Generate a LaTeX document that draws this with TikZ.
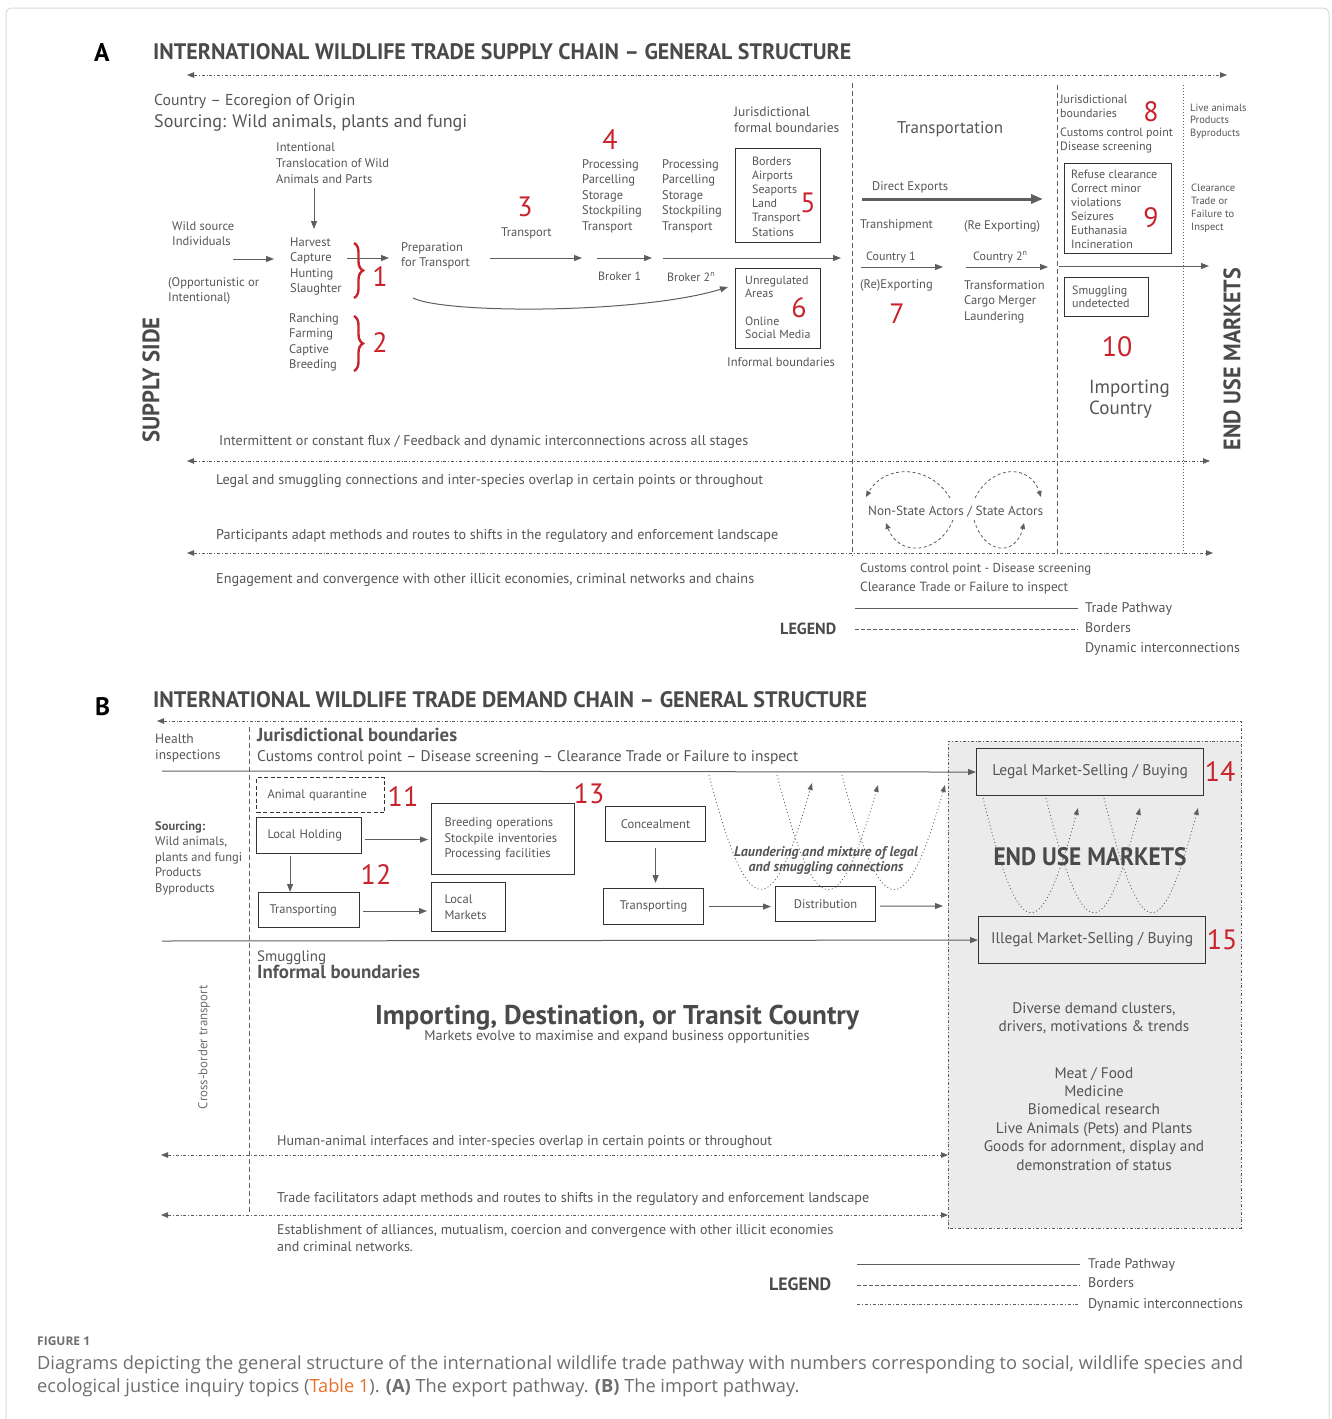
\documentclass[tikz,border=0pt]{standalone}
\usepackage{graphicx}
\usepackage{fontspec}
\setmainfont{PT Sans}
\newfontfamily\capfont{Open Sans}
\usetikzlibrary{arrows.meta,decorations.pathreplacing}
\definecolor{tg}{HTML}{555555}
\definecolor{lg}{HTML}{5E5E5E}
\definecolor{hd}{HTML}{4A4A4A}
\definecolor{rd}{HTML}{C8232C}
\definecolor{bx}{HTML}{EBEBEB}
\definecolor{capc}{HTML}{6E6E6E}
\definecolor{orng}{HTML}{E8702A}
\definecolor{frm}{HTML}{DADADA}
\newcommand\fitw[2]{\resizebox{#1}{!}{#2}}
\newcommand\fs[2]{\fontsize{#1}{#2}\selectfont}
\begin{document}
\begin{tikzpicture}[x=1pt,y=-1pt,
  txt/.style={inner sep=0, text=tg, anchor=base west, align=left, font=\fs{12.5}{15.5}},
  ctxt/.style={txt, anchor=base, align=center},
  num/.style={inner sep=0, text=rd, anchor=center, font=\fs{28}{28}},
  arr/.style={draw=lg, line width=1pt, -{Triangle[length=8pt,width=6pt]}},
  ddl/.style={draw=lg, line width=0.8pt, dash pattern=on 3pt off 2pt on 0.8pt off 2pt},
  bdl/.style={draw=lg, line width=0.9pt, dash pattern=on 5pt off 3pt},
  dtl/.style={draw=lg, line width=0.8pt, dash pattern=on 1pt off 2pt},
  abox/.style={draw=black!80, line width=1.1pt, inner sep=0, anchor=north west},
  bbox/.style={draw=black!80, line width=1.1pt, inner sep=0, anchor=north west, text=tg, font=\fs{12.5}{15.5}},
  brc/.style={draw=rd, line width=2.4pt, decorate, decoration={brace, amplitude=9pt}},
  hdr/.style={inner sep=0, text=hd, anchor=base west},
  tip2/.style={{Triangle[length=7pt,width=5.5pt]}-{Triangle[length=7pt,width=5.5pt]}},
  loopa/.style={draw=lg, line width=0.8pt, dash pattern=on 3pt off 2.5pt, -{Triangle[length=6pt,width=5pt]}},
  dota/.style={draw=lg, line width=0.8pt, dash pattern=on 1pt off 2.5pt, -{Triangle[length=7pt,width=5pt]}},
]
\useasboundingbox (0,0) rectangle (1331,1419);
\draw[frm, line width=1pt, rounded corners=6pt] (6,8) rectangle (1329,1440);

% ================= PANEL A =================
\node[hdr, text=black] (la) at (94,61) {\resizebox{!}{18pt}{\bfseries A}};
\node[hdr] (ta) at (153,59) {\resizebox{698pt}{16pt}{\bfseries INTERNATIONAL WILDLIFE TRADE SUPPLY CHAIN – GENERAL STRUCTURE}};
\coordinate (ta1) at (187,75); \coordinate (ta2) at (1227,75);
\draw[ddl, tip2] (ta1) -- (ta2);

% borders
\draw[bdl] (852,83) -- (852,556);
\draw[bdl] (1057,85) -- (1057,553);
\draw[dtl] (1183,85) -- (1183,553);

\node[txt, font=\fs{15}{18}] (cty) at (154,105) {\fitw{201pt}{Country – Ecoregion of Origin}};
\node[txt, font=\fs{18}{20}] (src) at (154,127) {\fitw{313pt}{Sourcing: Wild animals, plants and fungi}};
\node[txt, font=\fs{12.5}{16}] (itl) at (276,183) {Intentional\\Translocation of Wild\\Animals and Parts};
\node[txt] (wsi) at (172,245.5) {Wild source\\Individuals};
\node[txt] (opp) at (168,301.5) {(Opportunistic or\\Intentional)};
\node[txt] (hcs) at (290,292.5) {Harvest\\Capture\\Hunting\\Slaughter};
\node[txt] (rfc) at (289,368.5) {Ranching\\Farming\\Captive\\Breeding};
\node[txt] (prep) at (401,266.5) {Preparation\\for Transport};
\node[txt] (trn) at (501,236) {Transport};
\node[txt] (p1) at (582,230) {Processing\\Parcelling\\Storage\\Stockpiling\\Transport};
\node[txt] (p2) at (662,230) {Processing\\Parcelling\\Storage\\Stockpiling\\Transport};
\node[txt, font=\fs{12}{14}] (b1) at (598,280) {Broker 1};
\node[txt, font=\fs{12}{14}] (b2) at (667,281) {Broker 2\textsuperscript{n}};
\node[txt, font=\fs{13.5}{16.5}] (jfb) at (734,132.5) {Jurisdictional\\formal boundaries};
\node[txt] (ifb) at (727,366) {Informal boundaries};

\node[abox, minimum width=85, minimum height=94] (b5) at (735,148) {};
\node[txt, font=\fs{12}{14.2}] (b5t) at (752,236) {Borders\\Airports\\Seaports\\Land\\Transport\\Stations};
\node[abox, minimum width=85, minimum height=80] (b6) at (735,268) {};
\node[txt, font=\fs{12}{13.5}] (b6t) at (745,338.5) {Unregulated\\Areas\\[14pt]Online\\Social Media};

\node[txt, font=\fs{17}{20}] (tsp) at (897,133) {Transportation};
\node[txt] (dex) at (872,190) {Direct Exports};
\node[txt] (tsh) at (860,228) {Transhipment};
\node[txt] (rex) at (964,229) {(Re Exporting)};
\node[txt, font=\fs{12}{14}] (c1) at (866,260) {Country 1};
\node[txt, font=\fs{12}{14}] (c2) at (973,260) {Country 2\textsuperscript{n}};
\node[txt] (rexp) at (860,288) {(Re)Exporting};
\node[txt] (tcl) at (964,320) {Transformation\\Cargo Merger\\Laundering};

\node[txt, font=\fs{12}{14}] (jb) at (1060,117) {Jurisdictional\\boundaries};
\node[txt, font=\fs{12}{14}] (ccp) at (1060,150) {Customs control point\\Disease screening};
\node[abox, minimum width=107, minimum height=90] (b9) at (1064,163) {};
\node[txt, font=\fs{12}{14}] (b9t) at (1071,248) {Refuse clearance\\Correct minor\\violations\\Seizures\\Euthanasia\\Incineration};
\node[abox, minimum width=84, minimum height=39] (bs) at (1064,277) {};
\node[txt, font=\fs{12}{13.5}] (bst) at (1072,307.5) {Smuggling\\undetected};
\node[txt, font=\fs{19}{21}] (impc) at (1089,414) {Importing\\Country};
\node[txt, font=\fs{10.5}{12.8}] (lap) at (1190,136.6) {Live animals\\Products\\Byproducts};
\node[txt, font=\fs{10.5}{12.7}] (ctf) at (1191,230) {Clearance\\Trade or\\Failure to\\Inspect};

\node[inner sep=0, text=hd, rotate=90] (sup) at (151,380) {\resizebox{125pt}{17pt}{\bfseries SUPPLY SIDE}};
\node[inner sep=0, text=hd, rotate=90] (eum) at (1232,359) {\resizebox{182pt}{17pt}{\bfseries END USE MARKETS}};

% numbers A
\node[num] (n1) at (380,277) {1};
\node[num] (n2) at (380,343) {2};
\node[num] (n3) at (525,207) {3};
\node[num] (n4) at (610,140) {4};
\node[num] (n5) at (808,203) {5};
\node[num] (n6) at (799,308) {6};
\node[num] (n7) at (897,314) {7};
\node[num] (n8) at (1151,112) {8};
\node[num] (n9) at (1151,218) {9};
\node[num] (n10) at (1117,347) {10};
\draw[brc] (354,243) -- (354,298);
\draw[brc] (354,316) -- (354,371);

% arrows A
\coordinate (a1s) at (314,188); \coordinate (a1e) at (314,229);
\coordinate (a2s) at (233,259); \coordinate (a2e) at (274,259);
\coordinate (a3s) at (347,258); \coordinate (a3e) at (389,258);
\coordinate (a4s) at (490,258); \coordinate (a4e) at (582,258);
\coordinate (a5s) at (597,258); \coordinate (a5e) at (652,258);
\coordinate (a6s) at (663,258); \coordinate (a6e) at (841,258);
\coordinate (a7s) at (413,298); \coordinate (a7e) at (728,287);
\coordinate (a8s) at (862,199); \coordinate (a8e) at (1043,199);
\coordinate (a9s) at (861,267); \coordinate (a9e) at (943,267);
\coordinate (a10s) at (966,267); \coordinate (a10e) at (1048,267);
\coordinate (a11s) at (1059,266); \coordinate (a11e) at (1209,266);
\draw[arr] (a1s) -- (a1e);
\draw[arr] (a2s) -- (a2e);
\draw[arr] (a3s) -- (a3e);
\draw[arr] (a4s) -- (a4e);
\draw[arr] (a5s) -- (a5e);
\draw[arr] (a6s) -- (a6e);
\draw[arr] (a7s) .. controls (445,314) and (640,314) .. (a7e);
\draw[draw=lg, line width=3pt, -{Triangle[length=12pt,width=9pt]}] (a8s) -- (a8e);
\draw[arr] (a9s) -- (a9e);
\draw[arr] (a10s) -- (a10e);
\draw[arr] (a11s) -- (a11e);

% dynamic lines A
\node[txt] (fl1) at (219,445) {\fitw{529pt}{Intermittent or constant flux / Feedback and dynamic interconnections across all stages}};
\coordinate (d1a) at (187,461); \coordinate (d1b) at (1210,461);
\draw[ddl, tip2] (d1a) -- (d1b);
\node[txt] (fl2) at (216,484) {\fitw{547pt}{Legal and smuggling connections and inter-species overlap in certain points or throughout}};
\node[txt] (fl3) at (216,539) {\fitw{562pt}{Participants adapt methods and routes to shifts in the regulatory and enforcement landscape}};
\coordinate (d2a) at (187,553); \coordinate (d2b) at (1213,553);
\draw[ddl, tip2] (d2a) -- (d2b);
\node[txt] (fl4) at (216,583) {\fitw{538pt}{Engagement and convergence with other illicit economies, criminal networks and chains}};

% actors
\node[txt] (nsa) at (868,515) {\fitw{175pt}{Non-State Actors / State Actors}};
\draw[loopa] (950,498) .. controls (930,464) and (884,464) .. (866,497);
\draw[loopa] (975,498) .. controls (992,464) and (1030,464) .. (1041,497);
\draw[loopa] (953,520) .. controls (938,556) and (898,556) .. (886,523);
\draw[loopa] (974,520) .. controls (985,556) and (1016,556) .. (1024,523);

\node[txt] (cc2) at (860,572) {\fitw{231pt}{Customs control point - Disease screening}};
\node[txt] (cc3) at (860,591) {\fitw{208pt}{Clearance Trade or Failure to inspect}};

% legend A
\coordinate (lgA1) at (855,608); \coordinate (lgA2) at (1078,608);
\coordinate (lgA3) at (855,629); \coordinate (lgA4) at (1078,629);
\draw[draw=lg, line width=1pt] (lgA1) -- (lgA2);
\draw[bdl, dash pattern=on 3.5pt off 2.5pt] (lgA3) -- (lgA4);
\node[txt, font=\fs{14}{15}] (lgt1) at (1085,612) {Trade Pathway};
\node[txt, font=\fs{14}{15}] (lgt2) at (1085,632) {Borders};
\node[txt, font=\fs{14}{15}] (lgt3) at (1085,652) {Dynamic interconnections};
\node[hdr] (lgA) at (780,634) {\resizebox{56pt}{!}{\bfseries LEGEND}};

% ================= PANEL B =================
\node[hdr, text=black] (lb) at (95,715) {\resizebox{!}{18pt}{\bfseries B}};
\node[hdr] (tb) at (153,707) {\resizebox{714pt}{16pt}{\bfseries INTERNATIONAL WILDLIFE TRADE DEMAND CHAIN – GENERAL STRUCTURE}};

\fill[bx] (948,741) rectangle (1241,1228);
\coordinate (tb1) at (157,721); \coordinate (tb2) at (1241,721);
\draw[ddl, {Triangle[length=7pt,width=5.5pt]}-] (tb1) -- (tb2) -- (1241,1228) -- (948,1228) -- (948,741) -- (1241,741);
\draw[bdl] (249,727) -- (249,1213);

\node[txt, font=\fs{13.5}{16}] (hi) at (155,759) {Health\\inspections};
\node[txt, font=\bfseries\fs{15}{18}] (jbB) at (257,741) {\fitw{200pt}{Jurisdictional boundaries}};
\node[txt, font=\fs{14.5}{17}] (ccB) at (257,761) {\fitw{541pt}{Customs control point – Disease screening – Clearance Trade or Failure to inspect}};
\node[txt] (srcB) at (155,892) {\textbf{Sourcing:}\\Wild animals,\\plants and fungi\\Products\\Byproducts};
\node[txt, font=\fs{15}{17}] (smB) at (257,961) {Smuggling};
\node[txt, font=\bfseries\fs{15}{17}] (ifB) at (257,978) {\fitw{163pt}{Informal boundaries}};
\node[inner sep=0, text=tg!85, rotate=90] (cbt) at (204,1047) {\resizebox{124pt}{!}{\fs{11.5}{12}Cross-border transport}};

% boxes B
\node[bbox, dashed, dash pattern=on 4pt off 2.5pt, minimum width=128, minimum height=35, text width=106, inner xsep=11, align=left] (aq) at (256,777) {Animal quarantine};
\node[bbox, minimum width=105, minimum height=36, text width=83, inner xsep=11, align=left] (lh) at (256,817) {Local Holding};
\node[bbox, minimum width=143, minimum height=71, text width=117, inner xsep=13, align=left] (bo) at (431,803) {Breeding operations\\Stockpile inventories\\Processing facilities};
\node[bbox, minimum width=101, minimum height=35, text width=79, inner xsep=11, align=left] (tr1) at (258,892) {Transporting};
\node[bbox, minimum width=74, minimum height=49, text width=48, inner xsep=13, align=left] (lm) at (431,882) {Local\\Markets};
\node[bbox, minimum width=100, minimum height=35, align=center] (con) at (605,806) {Concealment};
\node[bbox, minimum width=100, minimum height=36, align=center] (tr2) at (603,888) {Transporting};
\node[bbox, minimum width=100, minimum height=35, align=center] (dis) at (775,886) {Distribution};
\node[bbox, minimum width=227, minimum height=47, align=center, font=\fs{15.5}{17}] (legal) at (976,748) {Legal Market-Selling / Buying};
\node[bbox, minimum width=227, minimum height=47, align=center, font=\fs{15.5}{17}] (illegal) at (978,916) {Illegal Market-Selling / Buying};

\node[num] (n11) at (403,797) {11};
\node[num] (n12) at (376,875) {12};
\node[num] (n13) at (589,794) {13};
\node[num] (n14) at (1220,772) {14};
\node[num] (n15) at (1222,940) {15};

% arrows B
\coordinate (lgs) at (162,771);
\coordinate (ils) at (162,941);
\coordinate (disend) at (943,906);
\draw[arr] (lgs) -- (legal.west);
\draw[arr] (ils) -- (illegal.west);
\draw[arr] ([xshift=3,yshift=-4]lh.east) -- ([xshift=-3,yshift=-4]lh.east -| bo.west);
\draw[arr] ([xshift=-19,yshift=-2]lh.south) -- ([xshift=-19]lh.south |- tr1.north);
\draw[arr] ([xshift=3,yshift=-1]tr1.east) -- ([xshift=-4,yshift=-1]tr1.east -| lm.west);
\draw[arr] ([yshift=-6]con.south) -- ([yshift=5]con.south |- tr2.north);
\draw[arr] ([xshift=5]tr2.east) -- ([xshift=-4]tr2.east -| dis.west);
\draw[arr] ([xshift=4,yshift=-2]dis.east) -- (disend);

% dotted laundering curves
\draw[dota] (709,775) .. controls (748,925) and (772,925) .. (812,783);
\draw[dota] (777,775) .. controls (816,925) and (838,925) .. (878,785);
\draw[dota] (842,775) .. controls (881,925) and (905,925) .. (945,785);
\draw[dota] (983,798) .. controls (1020,948) and (1040,948) .. (1078,808);
\draw[dota] (1046,798) .. controls (1083,948) and (1103,948) .. (1140,808);
\draw[dota] (1104,798) .. controls (1141,948) and (1161,948) .. (1198,808);

\node[ctxt, font=\bfseries\itshape\fs{14}{15.5}] (laund) at (826,871.5) {Laundering and mixture of legal\\and smuggling connections};
\node[inner sep=0, text=hd, anchor=center] (eumB) at (1090,857) {\resizebox{193pt}{18pt}{\bfseries END USE MARKETS}};

\node[ctxt, font=\bfseries\fs{23}{26}, text=hd] (idt) at (617,1024) {\fitw{484pt}{Importing, Destination, or Transit Country}};
\node[ctxt] (mev) at (617,1040) {\fitw{385pt}{Markets evolve to maximise and expand business opportunities}};

\node[ctxt, font=\fs{15.3}{18}] (ddc) at (1094,1031) {Diverse demand clusters,\\drivers, motivations \& trends};
\node[ctxt, font=\fs{15.3}{18.4}] (meat) at (1094,1170) {Meat / Food\\Medicine\\Biomedical research\\Live Animals (Pets) and Plants\\Goods for adornment, display and\\demonstration of status};

\node[txt] (hb1) at (277,1145) {\fitw{495pt}{Human-animal interfaces and inter-species overlap in certain points or throughout}};
\coordinate (e1a) at (161,1155); \coordinate (e1b) at (948,1155);
\draw[ddl, tip2] (e1a) -- (e1b);
\node[txt] (hb2) at (277,1202) {\fitw{592pt}{Trade facilitators adapt methods and routes to shifts in the regulatory and enforcement landscape}};
\coordinate (e2a) at (161,1215); \coordinate (e2b) at (948,1215);
\draw[ddl, tip2] (e2a) -- (e2b);
\node[txt, font=\fs{14}{17}] (hb3) at (277,1251) {Establishment of alliances, mutualism, coercion and convergence with other illicit economies\\and criminal networks.};

% legend B
\coordinate (lgB1) at (857,1264); \coordinate (lgB2) at (1080,1264);
\coordinate (lgB3) at (857,1285); \coordinate (lgB4) at (1080,1285);
\coordinate (lgB5) at (857,1304); \coordinate (lgB6) at (1080,1304);
\draw[draw=lg, line width=1pt] (lgB1) -- (lgB2);
\draw[bdl, dash pattern=on 3.5pt off 2.5pt] (lgB3) -- (lgB4);
\draw[ddl] (lgB5) -- (lgB6);
\node[txt, font=\fs{14}{15}] (lbt1) at (1088,1268) {Trade Pathway};
\node[txt, font=\fs{14}{15}] (lbt2) at (1088,1287) {Borders};
\node[txt, font=\fs{14}{15}] (lbt3) at (1088,1308) {Dynamic interconnections};
\node[hdr] (lgB) at (769,1290) {\resizebox{62pt}{!}{\bfseries LEGEND}};

% caption
\node[anchor=base west, inner sep=0, text=capc, font=\capfont\bfseries\fs{12}{14}] (fig) at (37,1345) {FIGURE 1};
\node[anchor=base west, inner sep=0, text=capc] (capt) at (37,1369) {\resizebox{1206pt}{!}{\capfont\fs{18}{23}\begin{tabular}[t]{@{}l@{}}Diagrams depicting the general structure of the international wildlife trade pathway with numbers corresponding to social, wildlife species and\\ecological justice inquiry topics (\textcolor{orng}{Table 1}). \textbf{(A)} The export pathway. \textbf{(B)} The import pathway.\end{tabular}}};
\end{tikzpicture}
\end{document}
